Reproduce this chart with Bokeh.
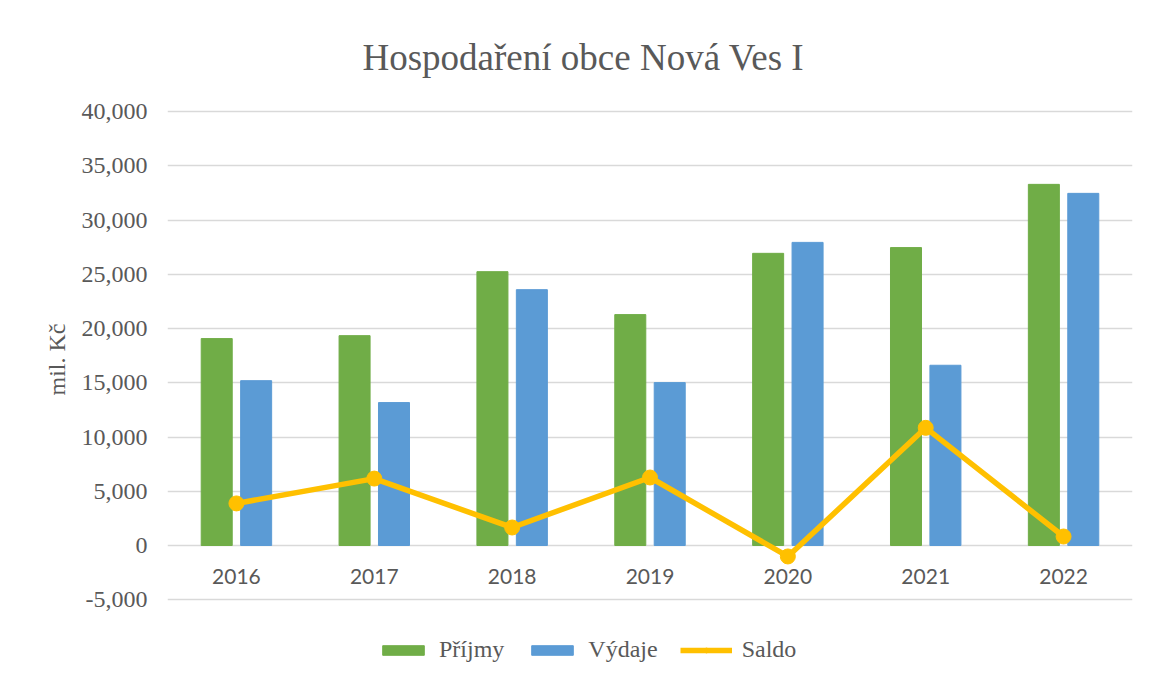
from bokeh.plotting import figure
from bokeh.models import (FactorRange, Range1d, FixedTicker, NumeralTickFormatter,
                          ColumnDataSource, Legend, LegendItem, Title)
from bokeh.transform import dodge
from bokeh.core.properties import value
from bokeh.embed import file_html
from bokeh.resources import INLINE

years = ["2016", "2017", "2018", "2019", "2020", "2021", "2022"]
prijmy = [19080, 19350, 25250, 21290, 26940, 27470, 33300]
vydaje = [15200, 13180, 23590, 15020, 27950, 16620, 32470]
saldo = [3880, 6170, 1660, 6270, -1010, 10850, 830]
y_ticks = [-5000, 0, 5000, 10000, 15000, 20000, 25000, 30000, 35000, 40000]

TEXT = "#595959"
SERIF = "Liberation Serif"

src = ColumnDataSource(dict(year=years, prijmy=prijmy, vydaje=vydaje, saldo=saldo,
                            base=[0] * len(years)))

p = figure(x_range=FactorRange(*years), y_range=Range1d(-11618, 40941),
           width=1141, height=671, output_backend="svg", toolbar_location=None,
           x_axis_location=None,
           min_border_left=167, min_border_right=9, min_border_top=101, min_border_bottom=0)

p.title.text = "Hospodaření obce Nová Ves I"
p.title.text_font = SERIF
p.title.text_font_size = "37px"
p.title.text_font_style = "normal"
p.title.text_color = TEXT
p.title.align = "left"
p.title.offset = 195
p.title.standoff = 48

p.outline_line_color = None
p.background_fill_color = "white"
p.border_fill_color = "white"

r1 = p.vbar(x=dodge("year", -0.143, range=p.x_range), top="prijmy", width=0.225,
            source=src, fill_color="#70AD47", line_color="#70AD47")
r2 = p.vbar(x=dodge("year", 0.143, range=p.x_range), top="vydaje", width=0.225,
            source=src, fill_color="#5B9BD5", line_color="#5B9BD5")
r3 = p.line(x="year", y="saldo", source=src, line_width=5.5, line_color="#FFC000")
r4 = p.scatter(x="year", y="saldo", source=src, size=15, fill_color="#FFC000",
               line_color="#FFC000")

p.text(x="year", y="base", text="year", source=src, text_align="center",
       text_baseline="middle", y_offset=31, text_font=value("Lato"),
       text_font_size="21px", text_color=TEXT)

p.yaxis.ticker = FixedTicker(ticks=y_ticks)
p.yaxis.formatter = NumeralTickFormatter(format="0,0")
p.yaxis.major_label_text_font = SERIF
p.yaxis.major_label_text_font_size = "24px"
p.yaxis.major_label_text_color = TEXT
p.yaxis.axis_line_color = None
p.yaxis.major_tick_line_color = None
p.yaxis.minor_tick_line_color = None
p.yaxis.major_tick_out = 0
p.yaxis.major_label_standoff = 20

ylabel = Title(text="mil. Kč", align="left", offset=276, text_font=SERIF,
               text_font_size="24px", text_font_style="normal", text_color=TEXT,
               standoff=17)
p.add_layout(ylabel, "left")

p.xgrid.visible = False
p.ygrid.grid_line_color = "#d9d9d9"
p.ygrid.grid_line_width = 1.5

legend = Legend(items=[LegendItem(label="Příjmy", renderers=[r1]),
                       LegendItem(label="Výdaje", renderers=[r2]),
                       LegendItem(label="Saldo", renderers=[r3, r4])],
                orientation="horizontal", location=(210, 8),
                glyph_width=52, glyph_height=12, label_standoff=10, spacing=22,
                padding=0, margin=0, border_line_color=None, background_fill_alpha=0,
                label_text_font=SERIF, label_text_font_size="24px",
                label_text_color=TEXT)
p.add_layout(legend, "center")

open("out.html", "w").write(file_html(p, INLINE))
